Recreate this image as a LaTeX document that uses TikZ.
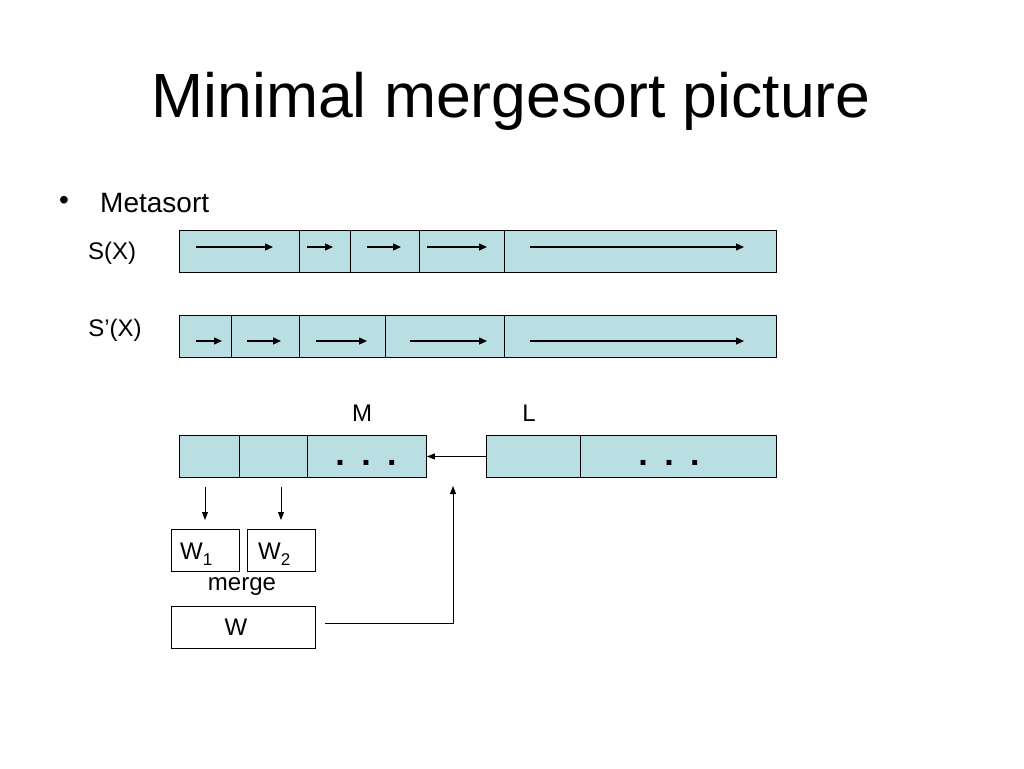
\documentclass[tikz,border=0pt]{standalone}
\usepackage{fontspec}
\setmainfont{Liberation Sans}
\usetikzlibrary{arrows.meta}
\definecolor{cellblue}{RGB}{185,223,227}
\tikzset{
  cell/.style={draw=black, line width=0.9pt, fill=cellblue, inner sep=0pt, minimum height=42pt, anchor=north west},
  wbox/.style={draw=black, line width=0.8pt, fill=white, inner sep=0pt, minimum height=42pt, anchor=north west, font=\fontsize{24}{24}\selectfont},
  runarrow/.style={line width=1.3pt, -{Triangle[length=8pt,width=7pt]}},
  thinarrow/.style={line width=0.9pt, -{Triangle[length=8pt,width=6pt]}},
  lbl/.style={font=\fontsize{24}{24}\selectfont, inner sep=0pt},
  dots/.style={font=\bfseries\fontsize{34}{34}\selectfont, inner sep=0pt}
}
\newcommand{\lowsub}[1]{\raisebox{-6pt}{\fontsize{17}{17}\selectfont #1}}
\begin{document}
\begin{tikzpicture}[x=1pt,y=-1pt]
\useasboundingbox (0,0) rectangle (1024,768);
% title
\node[font=\fontsize{62.5}{62.5}\selectfont, inner sep=0pt] (title) at (511,101) {Minimal mergesort picture};
\node[font=\fontsize{28}{28}\selectfont, inner sep=0pt, anchor=west] (bullet) at (59,203) {•};
\node[font=\fontsize{28}{28}\selectfont, inner sep=0pt, anchor=west] (meta) at (100,203) {Metasort};
% S(X)
\node[lbl] (sxl) at (112,253) {S(X)};
\node[cell, minimum width=120pt] (a1) at (179,230) {};
\node[cell, minimum width=51pt] (a2) at (299,230) {};
\node[cell, minimum width=69pt] (a3) at (350,230) {};
\node[cell, minimum width=85pt] (a4) at (419,230) {};
\node[cell, minimum width=272pt] (a5) at (504,230) {};
\draw[runarrow] (196,247) -- (273,247);
\draw[runarrow] (307,247) -- (333,247);
\draw[runarrow] (367,247) -- (401,247);
\draw[runarrow] (427,247) -- (487,247);
\draw[runarrow] (530,247) -- (744,247);
% S'(X)
\node[lbl] (spxl) at (115,330) {S’(X)};
\node[cell, minimum width=52pt] (b1) at (179,315) {};
\node[cell, minimum width=68pt] (b2) at (231,315) {};
\node[cell, minimum width=86pt] (b3) at (299,315) {};
\node[cell, minimum width=119pt] (b4) at (385,315) {};
\node[cell, minimum width=272pt] (b5) at (504,315) {};
\draw[runarrow] (196,341) -- (222,341);
\draw[runarrow] (247,341) -- (281,341);
\draw[runarrow] (316,341) -- (367,341);
\draw[runarrow] (410,341) -- (487,341);
\draw[runarrow] (530,341) -- (744,341);
% M and L
\node[lbl] (ml) at (362,413) {M};
\node[lbl] (ll) at (529,413) {L};
\node[cell, minimum width=60pt] (m1) at (179,435) {};
\node[cell, minimum width=68pt] (m2) at (239,435) {};
\node[cell, minimum width=119pt] (m3) at (307,435) {};
\node[cell, minimum width=94pt] (l1) at (486,435) {};
\node[cell, minimum width=196pt] (l2) at (580,435) {};
\node[dots] (md) at (366,463) {.\hspace{16.5pt}.\hspace{16.5pt}.};
\node[dots] (ld) at (669,463) {.\hspace{16.5pt}.\hspace{16.5pt}.};
\draw[thinarrow] (l1.west) -- (m3.east);
% W boxes
\node[wbox, minimum width=68pt] (w1) at (171,529) {};
\node[lbl, anchor=base west] (w1t) at (180,559) {W\lowsub{1}};
\node[wbox, minimum width=68pt] (w2) at (247,529) {};
\node[lbl, anchor=base west] (w2t) at (258,559) {W\lowsub{2}};
\node[lbl] (merge) at (242,587) {merge};
\node[wbox, minimum width=144pt] (w) at (171,606) {};
\node[lbl] (wt) at (236,627) {W};
\coordinate (d1s) at (205,487);
\coordinate (d2s) at (281,487);
\draw[thinarrow] (d1s) -- (205,520);
\draw[thinarrow] (d2s) -- (281,520);
\coordinate (ws) at (325,623);
\coordinate (wc) at (453,623);
\coordinate (we) at (453,486);
\draw[thinarrow] (ws) -- (wc) -- (we);
\end{tikzpicture}
\end{document}
